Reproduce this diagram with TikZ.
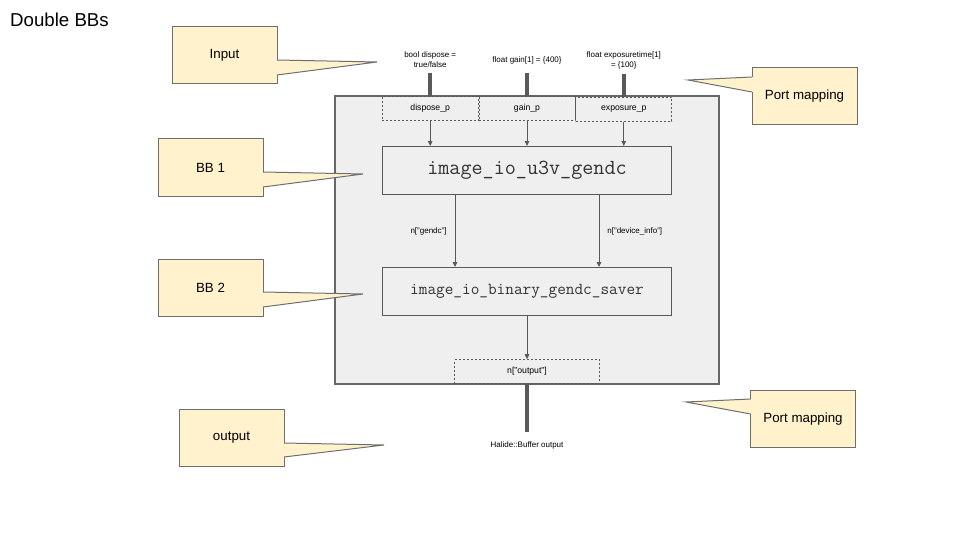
\documentclass[tikz,border=0pt]{standalone}
\usepackage{fontspec}
\setmainfont{Liberation Sans}
\usetikzlibrary{arrows.meta}
\usetikzlibrary{positioning, matrix}

\definecolor{notefill}{HTML}{FFF2CC}
\definecolor{notebd}{HTML}{6E6E6E}
\definecolor{framefill}{HTML}{EFEFEF}
\definecolor{framebd}{HTML}{666666}
\definecolor{wiregray}{HTML}{595959}

\tikzset{
	note/.style={
		draw=notebd,
		fill=notefill,
		line width=1pt,
		inner sep=0pt,
		outer sep=0pt,
		minimum width=105pt,
		minimum height=57pt,
		font=\fontsize{13.33}{16}\selectfont
	},
	bbframe/.style={
		draw=framebd,
		fill=framefill,
		line width=2pt,
		outer sep=0pt,
		minimum width=384pt,
		minimum height=288pt
	},
	bb/.style={
		draw=wiregray,
		line width=1pt,
		inner sep=0pt,
		minimum width=289pt,
		minimum height=48pt,
		text=black!80
	},
	port/.style={
		draw=wiregray,
		dash pattern=on 2pt off 2pt,
		line width=0.8pt,
		inner sep=0pt,
		minimum height=24pt,
		font=\fontsize{8.67}{10}\selectfont
	},
	arg/.style={
		inner sep=0pt,
		minimum height=26pt,
		align=center,
		font=\fontsize{8}{10}\selectfont
	},
	stub/.style={draw=wiregray, line width=4pt},
	link/.style={->, draw=wiregray, line width=0.9pt}
}

% wedge of a note: base top, base bottom, tip, shift into the box
\newcommand{\notewedge}[4]{%
	\fill[notefill] ([xshift=#4]#1) -- (#3) -- ([xshift=#4]#2) -- cycle;
	\draw[notebd, line width=1pt] (#1) -- (#3) -- (#2);
}

\begin{document}
\begin{tikzpicture}[
		x=1pt, y=-1pt,
		>={Triangle[length=5pt, width=4.5pt]},
	]

	% Canvas
	\useasboundingbox (0,0) rectangle (960,540);

	\node[anchor=base west, inner sep=0pt, font=\fontsize{18.67}{22}\selectfont] (title) at (10,27) {Double BBs};

	% The outer block
	\node[bbframe] (frame) at (527,240) {};

	% Input ports
	\matrix[
		ampersand replacement=\&,
		matrix of nodes,
		nodes={port, minimum width=96pt},
		column sep=0pt,
		inner sep=0pt,
		anchor=north
	] (ports) at (frame.north)
	{
		\node (p0) {dispose\_p}; \&
		\node (p1) {gain\_p}; \&
		\node (p2) {exposure\_p}; \\
	};

	\node[arg, above=23pt of p0.north] (arg0) {bool dispose =\\true/false};
	\node[arg, above=23pt of p1.north] (arg1) {float gain[1] = \{400\}};
	\node[arg, above=23pt of p2.north] (arg2) {float exposuretime[1]\\= \{100\}};

	\draw[stub] (arg0) -- (p0);
	\draw[stub] (arg1) -- (p1);
	\draw[stub] (arg2) -- (p2);

	% The two BBs
	\node[bb, below=24pt of ports, font=\ttfamily\fontsize{21.5}{24}\selectfont] (bb1) {image\_io\_u3v\_gendc};
	\node[bb, below=72pt of bb1, font=\ttfamily\fontsize{16.8}{20}\selectfont] (bb2) {image\_io\_binary\_gendc\_saver};

	\draw[link] (p0) -- (p0 |- bb1.north);
	\draw[link] (p1) -- (p1 |- bb1.north);
	\draw[link] (p2) -- (p2 |- bb1.north);

	\draw[link] ([xshift=-72pt]bb1.south) -- node[arg, minimum height=0pt, left=8pt] {n["gendc"]} ([xshift=-72pt]bb2.north);
	\draw[link] ([xshift=72pt]bb1.south) -- node[arg, minimum height=0pt, right=8pt] {n["device\_info"]} ([xshift=72pt]bb2.north);

	% Output port
	\node[port, minimum width=145pt, anchor=south] (pout) at (frame.south) {n["output"]};
	\node[arg, below=48pt of pout.south] (ret) {Halide::Buffer output};

	\draw[link] (bb2) -- (pout);
	\draw[stub] (pout) -- (ret);

	% Notes
	\node[note] (input) at (224.5,55) {Input};
	\node[note] (mapin) at (804.5,96.5) {Port mapping};
	\node[note] (bb1tag) at (210.5,167.5) {BB 1};
	\node[note] (bb2tag) at (210.5,287.5) {BB 2};
	\node[note] (output) at (231.5,438) {output};
	\node[note] (mapout) at (803,419) {Port mapping};

	\notewedge{input.east |- 0,60}{input.east |- 0,75}{377,62}{-1pt}
	\notewedge{mapin.west |- 0,77}{mapin.west |- 0,92}{688,80}{1pt}
	\notewedge{bb1tag.east |- 0,172}{bb1tag.east |- 0,187}{363,174}{-1pt}
	\notewedge{bb2tag.east |- 0,292}{bb2tag.east |- 0,307}{363,294}{-1pt}
	\notewedge{output.east |- 0,443}{output.east |- 0,457}{384,445}{-1pt}
	\notewedge{mapout.west |- 0,399}{mapout.west |- 0,414}{686,402}{1pt}

\end{tikzpicture}
\end{document}
